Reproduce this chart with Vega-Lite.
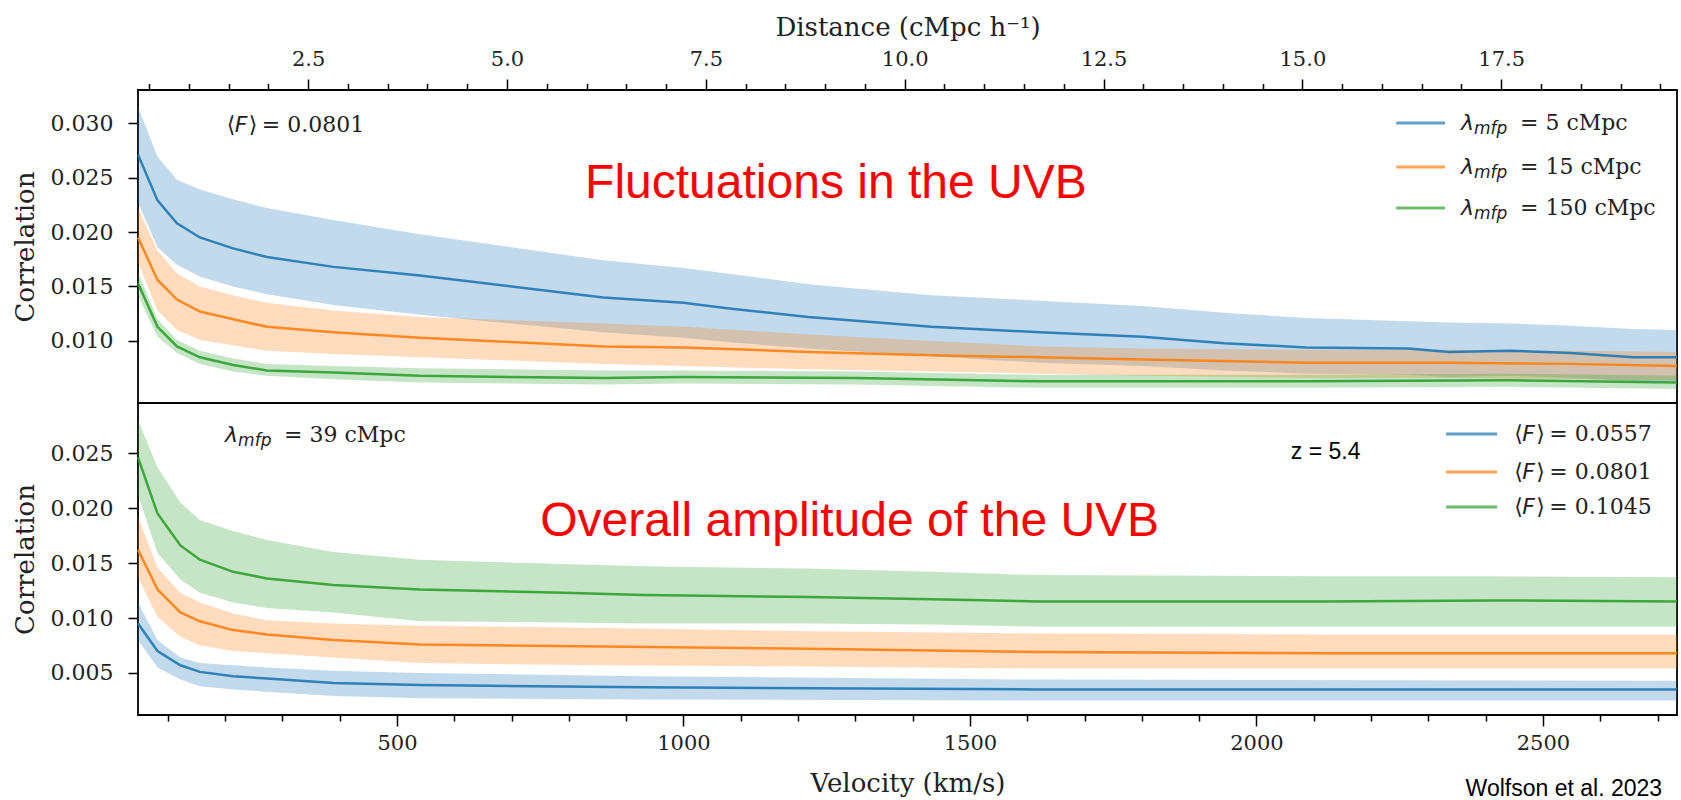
{
  "$schema": "https://vega.github.io/schema/vega-lite/v6.json",
  "autosize": "none",
  "padding": {"left": 138, "top": 90, "right": 1543, "bottom": 710},
  "background": "white",
  "datasets": {
    "top": [
      {"series": "L5", "v": 48, "c": 0.0271, "lo": 0.0227, "hi": 0.0315},
      {"series": "L5", "v": 82, "c": 0.0229, "lo": 0.0186, "hi": 0.0269},
      {"series": "L5", "v": 116, "c": 0.0208, "lo": 0.0170, "hi": 0.0248},
      {"series": "L5", "v": 156, "c": 0.0195, "lo": 0.0159, "hi": 0.0239},
      {"series": "L5", "v": 214, "c": 0.0185, "lo": 0.0150, "hi": 0.0230},
      {"series": "L5", "v": 273, "c": 0.0177, "lo": 0.0143, "hi": 0.0222},
      {"series": "L5", "v": 389, "c": 0.0168, "lo": 0.0133, "hi": 0.0211},
      {"series": "L5", "v": 540, "c": 0.0160, "lo": 0.0124, "hi": 0.0198},
      {"series": "L5", "v": 700, "c": 0.0150, "lo": 0.0116, "hi": 0.0186},
      {"series": "L5", "v": 860, "c": 0.0140, "lo": 0.0108, "hi": 0.0174},
      {"series": "L5", "v": 1000, "c": 0.0135, "lo": 0.0103, "hi": 0.0167},
      {"series": "L5", "v": 1076, "c": 0.0130, "lo": 0.0099, "hi": 0.0162},
      {"series": "L5", "v": 1218, "c": 0.0122, "lo": 0.0093, "hi": 0.0152},
      {"series": "L5", "v": 1433, "c": 0.0113, "lo": 0.0086, "hi": 0.0142},
      {"series": "L5", "v": 1622, "c": 0.0108, "lo": 0.0080, "hi": 0.0137},
      {"series": "L5", "v": 1801, "c": 0.0104, "lo": 0.0077, "hi": 0.0132},
      {"series": "L5", "v": 1944, "c": 0.0098, "lo": 0.0073, "hi": 0.0126},
      {"series": "L5", "v": 2087, "c": 0.0094, "lo": 0.0070, "hi": 0.0121},
      {"series": "L5", "v": 2265, "c": 0.0093, "lo": 0.0069, "hi": 0.0118},
      {"series": "L5", "v": 2336, "c": 0.0090, "lo": 0.0067, "hi": 0.0117},
      {"series": "L5", "v": 2443, "c": 0.0091, "lo": 0.0068, "hi": 0.0116},
      {"series": "L5", "v": 2549, "c": 0.0089, "lo": 0.0066, "hi": 0.0114},
      {"series": "L5", "v": 2657, "c": 0.0085, "lo": 0.0063, "hi": 0.0111},
      {"series": "L5", "v": 2734, "c": 0.0085, "lo": 0.0063, "hi": 0.0110},
      {"series": "L15", "v": 48, "c": 0.0195, "lo": 0.0172, "hi": 0.0222},
      {"series": "L15", "v": 82, "c": 0.0156, "lo": 0.0128, "hi": 0.0183},
      {"series": "L15", "v": 116, "c": 0.0138, "lo": 0.0110, "hi": 0.0162},
      {"series": "L15", "v": 156, "c": 0.0127, "lo": 0.0101, "hi": 0.0150},
      {"series": "L15", "v": 214, "c": 0.0120, "lo": 0.0096, "hi": 0.0142},
      {"series": "L15", "v": 273, "c": 0.0113, "lo": 0.0091, "hi": 0.0135},
      {"series": "L15", "v": 389, "c": 0.0108, "lo": 0.0088, "hi": 0.0128},
      {"series": "L15", "v": 540, "c": 0.0103, "lo": 0.0085, "hi": 0.0122},
      {"series": "L15", "v": 700, "c": 0.0099, "lo": 0.0082, "hi": 0.0119},
      {"series": "L15", "v": 861, "c": 0.0095, "lo": 0.0079, "hi": 0.0116},
      {"series": "L15", "v": 1000, "c": 0.0094, "lo": 0.0077, "hi": 0.0113},
      {"series": "L15", "v": 1218, "c": 0.0090, "lo": 0.0074, "hi": 0.0106},
      {"series": "L15", "v": 1433, "c": 0.0087, "lo": 0.0072, "hi": 0.0100},
      {"series": "L15", "v": 1622, "c": 0.0085, "lo": 0.0070, "hi": 0.0095},
      {"series": "L15", "v": 1801, "c": 0.0083, "lo": 0.0068, "hi": 0.0093},
      {"series": "L15", "v": 2087, "c": 0.0080, "lo": 0.0066, "hi": 0.0092},
      {"series": "L15", "v": 2336, "c": 0.0080, "lo": 0.0066, "hi": 0.0092},
      {"series": "L15", "v": 2549, "c": 0.0079, "lo": 0.0065, "hi": 0.0091},
      {"series": "L15", "v": 2734, "c": 0.0077, "lo": 0.0064, "hi": 0.0090},
      {"series": "L150", "v": 48, "c": 0.0153, "lo": 0.0142, "hi": 0.0163},
      {"series": "L150", "v": 82, "c": 0.0113, "lo": 0.0104, "hi": 0.0120},
      {"series": "L150", "v": 116, "c": 0.0095, "lo": 0.0089, "hi": 0.0101},
      {"series": "L150", "v": 156, "c": 0.0085, "lo": 0.0079, "hi": 0.0091},
      {"series": "L150", "v": 214, "c": 0.0078, "lo": 0.0072, "hi": 0.0084},
      {"series": "L150", "v": 273, "c": 0.0073, "lo": 0.0068, "hi": 0.0079},
      {"series": "L150", "v": 389, "c": 0.0071, "lo": 0.0065, "hi": 0.0077},
      {"series": "L150", "v": 540, "c": 0.0068, "lo": 0.0062, "hi": 0.0075},
      {"series": "L150", "v": 860, "c": 0.0066, "lo": 0.0060, "hi": 0.0073},
      {"series": "L150", "v": 1000, "c": 0.0067, "lo": 0.0061, "hi": 0.0073},
      {"series": "L150", "v": 1300, "c": 0.0066, "lo": 0.0060, "hi": 0.0072},
      {"series": "L150", "v": 1622, "c": 0.0063, "lo": 0.0057, "hi": 0.0069},
      {"series": "L150", "v": 2087, "c": 0.0063, "lo": 0.0057, "hi": 0.0069},
      {"series": "L150", "v": 2443, "c": 0.0064, "lo": 0.0058, "hi": 0.0070},
      {"series": "L150", "v": 2734, "c": 0.0062, "lo": 0.0056, "hi": 0.0068}
    ],
    "bottom": [
      {"series": "F0557", "v": 48, "c": 0.0095, "lo": 0.0080, "hi": 0.0114},
      {"series": "F0557", "v": 82, "c": 0.0070, "lo": 0.0055, "hi": 0.0080},
      {"series": "F0557", "v": 122, "c": 0.0057, "lo": 0.0044, "hi": 0.0064},
      {"series": "F0557", "v": 156, "c": 0.0051, "lo": 0.0038, "hi": 0.0059},
      {"series": "F0557", "v": 214, "c": 0.0047, "lo": 0.0035, "hi": 0.0057},
      {"series": "F0557", "v": 273, "c": 0.0045, "lo": 0.0033, "hi": 0.0055},
      {"series": "F0557", "v": 389, "c": 0.0041, "lo": 0.0029, "hi": 0.0052},
      {"series": "F0557", "v": 540, "c": 0.0039, "lo": 0.0027, "hi": 0.0050},
      {"series": "F0557", "v": 930, "c": 0.0037, "lo": 0.0026, "hi": 0.0047},
      {"series": "F0557", "v": 1622, "c": 0.0035, "lo": 0.0025, "hi": 0.0044},
      {"series": "F0557", "v": 2734, "c": 0.0035, "lo": 0.0025, "hi": 0.0043},
      {"series": "F0801", "v": 48, "c": 0.0162, "lo": 0.0137, "hi": 0.0192},
      {"series": "F0801", "v": 82, "c": 0.0126, "lo": 0.0101, "hi": 0.0146},
      {"series": "F0801", "v": 122, "c": 0.0105, "lo": 0.0083, "hi": 0.0123},
      {"series": "F0801", "v": 156, "c": 0.0097, "lo": 0.0075, "hi": 0.0114},
      {"series": "F0801", "v": 214, "c": 0.0089, "lo": 0.0070, "hi": 0.0104},
      {"series": "F0801", "v": 273, "c": 0.0085, "lo": 0.0068, "hi": 0.0098},
      {"series": "F0801", "v": 389, "c": 0.0080, "lo": 0.0064, "hi": 0.0095},
      {"series": "F0801", "v": 540, "c": 0.0076, "lo": 0.0059, "hi": 0.0093},
      {"series": "F0801", "v": 861, "c": 0.0074, "lo": 0.0057, "hi": 0.0091},
      {"series": "F0801", "v": 1218, "c": 0.0072, "lo": 0.0056, "hi": 0.0088},
      {"series": "F0801", "v": 1622, "c": 0.0069, "lo": 0.0054, "hi": 0.0086},
      {"series": "F0801", "v": 2120, "c": 0.0068, "lo": 0.0054, "hi": 0.0085},
      {"series": "F0801", "v": 2734, "c": 0.0068, "lo": 0.0054, "hi": 0.0085},
      {"series": "F1045", "v": 48, "c": 0.0246, "lo": 0.0212, "hi": 0.0280},
      {"series": "F1045", "v": 82, "c": 0.0195, "lo": 0.0159, "hi": 0.0237},
      {"series": "F1045", "v": 122, "c": 0.0166, "lo": 0.0135, "hi": 0.0205},
      {"series": "F1045", "v": 156, "c": 0.0153, "lo": 0.0123, "hi": 0.0189},
      {"series": "F1045", "v": 214, "c": 0.0142, "lo": 0.0114, "hi": 0.0179},
      {"series": "F1045", "v": 273, "c": 0.0136, "lo": 0.0109, "hi": 0.0171},
      {"series": "F1045", "v": 389, "c": 0.0130, "lo": 0.0105, "hi": 0.0160},
      {"series": "F1045", "v": 540, "c": 0.0126, "lo": 0.0097, "hi": 0.0153},
      {"series": "F1045", "v": 790, "c": 0.0123, "lo": 0.0096, "hi": 0.0149},
      {"series": "F1045", "v": 930, "c": 0.0121, "lo": 0.0095, "hi": 0.0147},
      {"series": "F1045", "v": 1218, "c": 0.0119, "lo": 0.0095, "hi": 0.0145},
      {"series": "F1045", "v": 1433, "c": 0.0117, "lo": 0.0094, "hi": 0.0142},
      {"series": "F1045", "v": 1622, "c": 0.0115, "lo": 0.0092, "hi": 0.0139},
      {"series": "F1045", "v": 2120, "c": 0.0115, "lo": 0.0092, "hi": 0.0138},
      {"series": "F1045", "v": 2410, "c": 0.0116, "lo": 0.0092, "hi": 0.0138},
      {"series": "F1045", "v": 2734, "c": 0.0115, "lo": 0.0092, "hi": 0.0137}
    ],
    "legTop": [
      {"series": "L5", "c": 0.0300, "xs": 2244, "xe": 2329, "xt": 2357, "rest": "= 5 cMpc"},
      {"series": "L15", "c": 0.02596, "xs": 2244, "xe": 2329, "xt": 2357, "rest": "= 15 cMpc"},
      {"series": "L150", "c": 0.0222, "xs": 2244, "xe": 2329, "xt": 2357, "rest": "= 150 cMpc"}
    ],
    "noteTop": [
      {"v": 203, "c": 0.0298, "rest": "= 0.0801"}
    ],
    "legBottom": [
      {"series": "F0557", "c": 0.02673, "xs": 2331, "xe": 2420, "xt": 2450, "rest": "= 0.0557"},
      {"series": "F0801", "c": 0.02327, "xs": 2331, "xe": 2420, "xt": 2450, "rest": "= 0.0801"},
      {"series": "F1045", "c": 0.02009, "xs": 2331, "xe": 2420, "xt": 2450, "rest": "= 0.1045"}
    ],
    "noteBottom": [
      {"v": 200, "c": 0.02664, "rest": "= 39 cMpc"}
    ]
  },
  "vconcat": [
    {
      "width": 1539,
      "height": 313,
      "layer": [
        {
          "layer": [
            {
              "data": {"name": "top"},
              "mark": {"type": "area", "opacity": 0.27},
              "encoding": {
                "x": {"field": "v", "type": "quantitative", "scale": {"domain": [48, 2734], "nice": false, "zero": false}, "axis": null},
                "y": {"field": "lo", "type": "quantitative", "scale": {"domain": [0.00431, 0.03303], "nice": false, "zero": false},
                      "axis": {"title": "Correlation", "values": [0.010, 0.015, 0.020, 0.025, 0.030], "format": ".3f"}},
                "y2": {"field": "hi"},
                "color": {"field": "series", "type": "nominal", "scale": {"domain": ["L5", "L15", "L150"], "range": ["#1f77b4", "#ff7f0e", "#2ca02c"]}, "legend": null}
              }
            },
            {
              "data": {"name": "top"},
              "mark": {"type": "line", "strokeWidth": 2.5, "opacity": 0.9},
              "encoding": {
                "x": {"field": "v", "type": "quantitative"},
                "y": {"field": "c", "type": "quantitative"},
                "color": {"field": "series", "type": "nominal"}
              }
            },
            {
              "data": {"values": [{"v": 1266, "c": 0.0244, "label": "Fluctuations in the UVB"}]},
              "mark": {"type": "text", "font": "Liberation Sans", "fontSize": 48, "color": "#ff0000", "align": "center", "baseline": "middle"},
              "encoding": {"x": {"field": "v", "type": "quantitative"}, "y": {"field": "c", "type": "quantitative"}, "text": {"field": "label"}}
            },
            {
              "data": {"name": "noteTop"},
              "mark": {"type": "text", "text": "⟨", "font": "DejaVu Sans", "fontSize": 22, "color": "#222", "align": "left", "baseline": "middle"},
              "encoding": {"x": {"field": "v", "type": "quantitative"}, "y": {"field": "c", "type": "quantitative"}}
            },
            {
              "data": {"name": "noteTop"},
              "mark": {"type": "text", "text": "F", "font": "DejaVu Sans", "fontStyle": "italic", "fontSize": 22, "color": "#222", "align": "left", "baseline": "middle", "dx": 8},
              "encoding": {"x": {"field": "v", "type": "quantitative"}, "y": {"field": "c", "type": "quantitative"}}
            },
            {
              "data": {"name": "noteTop"},
              "mark": {"type": "text", "text": "⟩", "font": "DejaVu Sans", "fontSize": 22, "color": "#222", "align": "left", "baseline": "middle", "dx": 22},
              "encoding": {"x": {"field": "v", "type": "quantitative"}, "y": {"field": "c", "type": "quantitative"}}
            },
            {
              "data": {"name": "noteTop"},
              "mark": {"type": "text", "font": "DejaVu Serif", "fontSize": 22, "color": "#222", "align": "left", "baseline": "middle", "dx": 35},
              "encoding": {"x": {"field": "v", "type": "quantitative"}, "y": {"field": "c", "type": "quantitative"}, "text": {"field": "rest"}}
            },
            {
              "data": {"name": "legTop"},
              "mark": {"type": "rule", "strokeWidth": 3, "opacity": 0.7},
              "encoding": {"x": {"field": "xs", "type": "quantitative"}, "x2": {"field": "xe"}, "y": {"field": "c", "type": "quantitative"}, "color": {"field": "series", "type": "nominal"}}
            },
            {
              "data": {"name": "legTop"},
              "mark": {"type": "text", "text": "λ", "font": "DejaVu Sans", "fontStyle": "italic", "fontSize": 22, "color": "#222", "align": "left", "baseline": "middle"},
              "encoding": {"x": {"field": "xt", "type": "quantitative"}, "y": {"field": "c", "type": "quantitative"}}
            },
            {
              "data": {"name": "legTop"},
              "mark": {"type": "text", "text": "mfp", "font": "DejaVu Sans", "fontStyle": "italic", "fontSize": 17, "color": "#222", "align": "left", "baseline": "middle", "dx": 13, "dy": 6},
              "encoding": {"x": {"field": "xt", "type": "quantitative"}, "y": {"field": "c", "type": "quantitative"}}
            },
            {
              "data": {"name": "legTop"},
              "mark": {"type": "text", "font": "DejaVu Serif", "fontSize": 22, "color": "#222", "align": "left", "baseline": "middle", "dx": 59},
              "encoding": {"x": {"field": "xt", "type": "quantitative"}, "y": {"field": "c", "type": "quantitative"}, "text": {"field": "rest"}}
            }
          ]
        },
        {
          "data": {"values": [{"d": 1}, {"d": 19}]},
          "mark": {"type": "point", "opacity": 0},
          "encoding": {
            "x": {"field": "d", "type": "quantitative", "scale": {"domain": [0.361, 19.71], "nice": false, "zero": false},
                  "axis": {"orient": "top", "title": "Distance (cMpc h⁻¹)", "titlePadding": 8,
                           "values": [0.5, 1, 1.5, 2, 2.5, 3, 3.5, 4, 4.5, 5, 5.5, 6, 6.5, 7, 7.5, 8, 8.5, 9, 9.5, 10, 10.5, 11, 11.5, 12, 12.5, 13, 13.5, 14, 14.5, 15, 15.5, 16, 16.5, 17, 17.5, 18, 18.5, 19, 19.5],
                           "labelExpr": "datum.value % 2.5 === 0 ? format(datum.value, '.1f') : ''",
                           "labelOverlap": false, "labelFlush": false, "labelPadding": 10,
                           "tickSize": {"condition": {"test": "datum.value % 2.5 === 0", "value": 11}, "value": 6.5}}}
          }
        }
      ],
      "resolve": {"scale": {"x": "independent"}}
    },
    {
      "width": 1539,
      "height": 312,
      "layer": [
        {
          "data": {"name": "bottom"},
          "mark": {"type": "area", "opacity": 0.27},
          "encoding": {
            "x": {"field": "v", "type": "quantitative", "scale": {"domain": [48, 2734], "nice": false, "zero": false},
                  "axis": {"title": "Velocity (km/s)", "titlePadding": 17,
                           "values": [100, 200, 300, 400, 500, 600, 700, 800, 900, 1000, 1100, 1200, 1300, 1400, 1500, 1600, 1700, 1800, 1900, 2000, 2100, 2200, 2300, 2400, 2500, 2600, 2700],
                           "labelExpr": "datum.value % 500 === 0 ? format(datum.value, 'd') : ''",
                           "labelOverlap": false, "labelFlush": false, "labelPadding": 6,
                           "tickSize": {"condition": {"test": "datum.value % 500 === 0", "value": 11}, "value": 6}}},
            "y": {"field": "lo", "type": "quantitative", "scale": {"domain": [0.00118, 0.02955], "nice": false, "zero": false},
                  "axis": {"title": "Correlation", "values": [0.005, 0.010, 0.015, 0.020, 0.025], "format": ".3f"}},
            "y2": {"field": "hi"},
            "color": {"field": "series", "type": "nominal", "scale": {"domain": ["F0557", "F0801", "F1045"], "range": ["#1f77b4", "#ff7f0e", "#2ca02c"]}, "legend": null}
          }
        },
        {
          "data": {"name": "bottom"},
          "mark": {"type": "line", "strokeWidth": 2.5, "opacity": 0.9},
          "encoding": {
            "x": {"field": "v", "type": "quantitative"},
            "y": {"field": "c", "type": "quantitative"},
            "color": {"field": "series", "type": "nominal"}
          }
        },
        {
          "data": {"values": [{"v": 1290, "c": 0.01873, "label": "Overall amplitude of the UVB"}]},
          "mark": {"type": "text", "font": "Liberation Sans", "fontSize": 48, "color": "#ff0000", "align": "center", "baseline": "middle"},
          "encoding": {"x": {"field": "v", "type": "quantitative"}, "y": {"field": "c", "type": "quantitative"}, "text": {"field": "label"}}
        },
        {
          "data": {"values": [{"v": 2060, "c": 0.0251, "label": "z = 5.4"}]},
          "mark": {"type": "text", "font": "Liberation Sans", "fontSize": 23, "color": "#000", "align": "left", "baseline": "middle"},
          "encoding": {"x": {"field": "v", "type": "quantitative"}, "y": {"field": "c", "type": "quantitative"}, "text": {"field": "label"}}
        },
        {
          "data": {"values": [{"v": 2708, "c": -0.0062, "label": "Wolfson et al. 2023"}]},
          "mark": {"type": "text", "font": "Liberation Sans", "fontSize": 23, "color": "#000", "align": "right", "baseline": "alphabetic"},
          "encoding": {"x": {"field": "v", "type": "quantitative"}, "y": {"field": "c", "type": "quantitative"}, "text": {"field": "label"}}
        },
        {
          "data": {"name": "noteBottom"},
          "mark": {"type": "text", "text": "λ", "font": "DejaVu Sans", "fontStyle": "italic", "fontSize": 22, "color": "#222", "align": "left", "baseline": "middle"},
          "encoding": {"x": {"field": "v", "type": "quantitative"}, "y": {"field": "c", "type": "quantitative"}}
        },
        {
          "data": {"name": "noteBottom"},
          "mark": {"type": "text", "text": "mfp", "font": "DejaVu Sans", "fontStyle": "italic", "fontSize": 17, "color": "#222", "align": "left", "baseline": "middle", "dx": 13, "dy": 6},
          "encoding": {"x": {"field": "v", "type": "quantitative"}, "y": {"field": "c", "type": "quantitative"}}
        },
        {
          "data": {"name": "noteBottom"},
          "mark": {"type": "text", "font": "DejaVu Serif", "fontSize": 22, "color": "#222", "align": "left", "baseline": "middle", "dx": 59},
          "encoding": {"x": {"field": "v", "type": "quantitative"}, "y": {"field": "c", "type": "quantitative"}, "text": {"field": "rest"}}
        },
        {
          "data": {"name": "legBottom"},
          "mark": {"type": "rule", "strokeWidth": 3, "opacity": 0.7},
          "encoding": {"x": {"field": "xs", "type": "quantitative"}, "x2": {"field": "xe"}, "y": {"field": "c", "type": "quantitative"}, "color": {"field": "series", "type": "nominal"}}
        },
        {
          "data": {"name": "legBottom"},
          "mark": {"type": "text", "text": "⟨", "font": "DejaVu Sans", "fontSize": 22, "color": "#222", "align": "left", "baseline": "middle"},
          "encoding": {"x": {"field": "xt", "type": "quantitative"}, "y": {"field": "c", "type": "quantitative"}}
        },
        {
          "data": {"name": "legBottom"},
          "mark": {"type": "text", "text": "F", "font": "DejaVu Sans", "fontStyle": "italic", "fontSize": 22, "color": "#222", "align": "left", "baseline": "middle", "dx": 8},
          "encoding": {"x": {"field": "xt", "type": "quantitative"}, "y": {"field": "c", "type": "quantitative"}}
        },
        {
          "data": {"name": "legBottom"},
          "mark": {"type": "text", "text": "⟩", "font": "DejaVu Sans", "fontSize": 22, "color": "#222", "align": "left", "baseline": "middle", "dx": 22},
          "encoding": {"x": {"field": "xt", "type": "quantitative"}, "y": {"field": "c", "type": "quantitative"}}
        },
        {
          "data": {"name": "legBottom"},
          "mark": {"type": "text", "font": "DejaVu Serif", "fontSize": 22, "color": "#222", "align": "left", "baseline": "middle", "dx": 35},
          "encoding": {"x": {"field": "xt", "type": "quantitative"}, "y": {"field": "c", "type": "quantitative"}, "text": {"field": "rest"}}
        }
      ]
    }
  ],
  "spacing": 0,
  "bounds": "flush",
  "config": {
    "view": {"stroke": "#000", "strokeWidth": 1.8},
    "axis": {"domain": false, "grid": false, "tickColor": "#000", "tickWidth": 1.5, "labelFont": "DejaVu Serif", "labelFontSize": 21, "labelColor": "#222",
             "titleFont": "DejaVu Serif", "titleFontSize": 26, "titleFontWeight": "normal", "titleColor": "#222"},
    "axisY": {"tickSize": 10, "labelFontSize": 22, "labelPadding": 15, "titlePadding": 12}
  }
}
